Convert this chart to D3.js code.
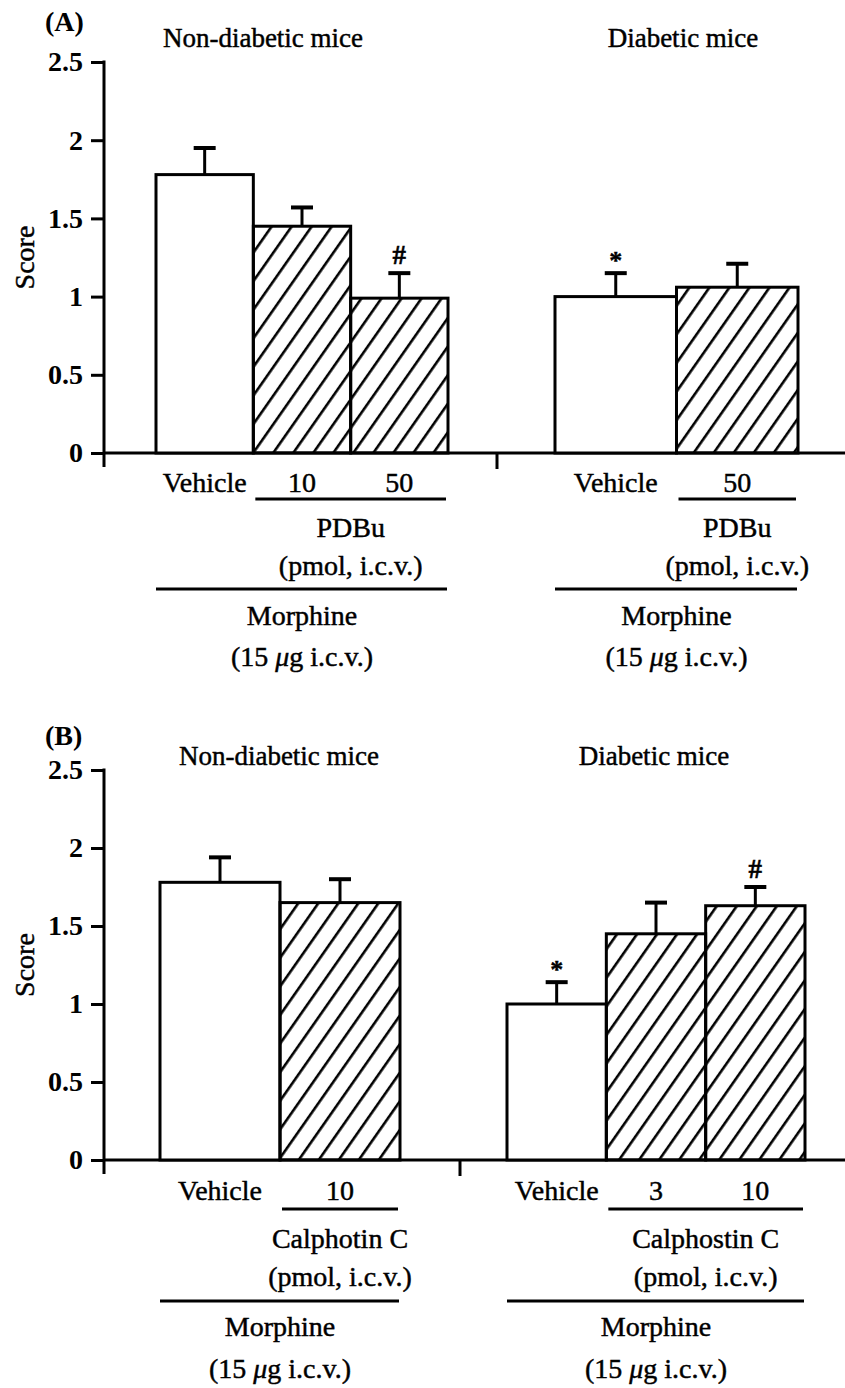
<!DOCTYPE html>
<html>
<head>
<meta charset="utf-8">
<script src="https://cdnjs.cloudflare.com/ajax/libs/d3/7.8.5/d3.min.js"></script>
<style>
    body { margin: 0; background: #fff; }
    text { font-family: 'Liberation Serif', 'Times New Roman', serif; fill: #000; stroke: #000; stroke-width: 0.45; }
    .tick text { font-weight: bold; font-size: 28px; stroke-width: 0; }
    .tick line, .axis-line { stroke: #000; stroke-width: 3; }
</style>
</head>
<body>
<div id="my_dataviz"></div>
<script>
// panel A: PDBu
const groupsA = ['Non-diabetic mice', 'Diabetic mice'];
const labelsA = [['Vehicle', '10', '50'], ['Vehicle', '50']];
const meansA = [[1.78, 1.45, 0.99], [1.0, 1.06]];
const semA = [[0.17, 0.12, 0.16], [0.15, 0.15]];
const hatchA = [[false, true, true], [false, true]];
const marksA = [['', '', '#'], ['*', '']];
const drugA = ['PDBu', 'PDBu'];

// panel B: calphostin C
const groupsB = ['Non-diabetic mice', 'Diabetic mice'];
const labelsB = [['Vehicle', '10'], ['Vehicle', '3', '10']];
const meansB = [[1.78, 1.65], [1.0, 1.45, 1.63]];
const semB = [[0.16, 0.15], [0.14, 0.20, 0.12]];
const hatchB = [[false, true], [false, true, true]];
const marksB = [['', ''], ['*', '', '#']];
const drugB = ['Calphotin C', 'Calphostin C'];

const yTicks = [0, 0.5, 1, 1.5, 2, 2.5];
const yAxisLabel = 'Score';
const doseUnit = '(pmol, i.c.v.)';
const pretreat = 'Morphine';

const width = 845, height = 1388;

const svg = d3.select('#my_dataviz')
    .append('svg')
    .attr('width', width)
    .attr('height', height);

// diagonal hatch
svg.append('defs')
    .append('pattern')
    .attr('id', 'hatch')
    .attr('patternUnits', 'userSpaceOnUse')
    .attr('width', 16.4)
    .attr('height', 10)
    .attr('patternTransform', 'rotate(35)')
    .append('line')
    .attr('x1', 8).attr('y1', -1)
    .attr('x2', 8).attr('y2', 11)
    .attr('stroke', '#000')
    .attr('stroke-width', 2.6);

const panels = [
    {
        letter: '(A)', groups: groupsA, labels: labelsA, means: meansA, sem: semA,
        hatch: hatchA, marks: marksA, drug: drugA,
        y0: 453, yTop: 62, axisX: 104, midTick: 497,
        ranges: [[156, 448], [555, 798]],
        titleX: [263, 683], titleY: 47, letterY: 31,
        off: [39, 46, 84, 122, 136, 172, 213]
    },
    {
        letter: '(B)', groups: groupsB, labels: labelsB, means: meansB, sem: semB,
        hatch: hatchB, marks: marksB, drug: drugB,
        y0: 1160, yTop: 770, axisX: 104, midTick: 460,
        ranges: [[160, 400], [507, 805]],
        titleX: [279, 654], titleY: 765, letterY: 745,
        off: [40, 49, 88, 126, 141, 176, 218]
    }
];

const render = p => {
    const g = svg.append('g');

    const yScale = d3.scaleLinear()
        .domain([0, 2.5])
        .range([p.y0, p.yTop]);

    const yAxis = d3.axisLeft(yScale)
        .tickValues(yTicks)
        .tickFormat(d => String(d))
        .tickSize(13)
        .tickSizeOuter(0)
        .tickPadding(8);

    const yAxisG = g.append('g')
        .attr('transform', 'translate(' + p.axisX + ',0)')
        .call(yAxis);
    yAxisG.select('.domain').remove();

    // axis lines
    g.append('line')
        .attr('class', 'axis-line')
        .attr('x1', p.axisX).attr('x2', p.axisX)
        .attr('y1', yScale(2.5) - 1.5).attr('y2', p.y0 + 14);
    g.append('line')
        .attr('class', 'axis-line')
        .attr('x1', p.axisX).attr('x2', width)
        .attr('y1', p.y0).attr('y2', p.y0);
    g.append('line')
        .attr('class', 'axis-line')
        .attr('x1', p.midTick).attr('x2', p.midTick)
        .attr('y1', p.y0).attr('y2', p.y0 + 16);

    g.append('text')
        .attr('transform', 'translate(34,' + yScale(1.25) + ') rotate(-90)')
        .attr('text-anchor', 'middle')
        .style('font-size', '28px')
        .text(yAxisLabel);

    g.append('text')
        .attr('x', 45).attr('y', p.letterY)
        .style('font-size', '28px')
        .style('font-weight', 'bold')
        .style('stroke-width', 0)
        .text(p.letter);

    p.groups.forEach((name, gi) => {
        const xScale = d3.scaleBand()
            .domain(d3.range(p.labels[gi].length))
            .range(p.ranges[gi]);

        const rows = p.labels[gi].map((l, i) => ({
            label: l,
            mean: p.means[gi][i],
            sem: p.sem[gi][i],
            hatch: p.hatch[gi][i],
            mark: p.marks[gi][i],
            i: i
        }));

        g.append('text')
            .attr('x', p.titleX[gi]).attr('y', p.titleY)
            .attr('text-anchor', 'middle')
            .style('font-size', '27px')
            .text(name);

        // error bars
        const errG = g.append('g');
        errG.selectAll('line.err')
            .data(rows)
            .enter()
            .append('line')
            .attr('x1', d => xScale(d.i) + xScale.bandwidth() / 2)
            .attr('x2', d => xScale(d.i) + xScale.bandwidth() / 2)
            .attr('y1', d => yScale(d.mean))
            .attr('y2', d => yScale(d.mean + d.sem))
            .attr('stroke', '#000').attr('stroke-width', 3);
        errG.selectAll('line.cap')
            .data(rows)
            .enter()
            .append('line')
            .attr('x1', d => xScale(d.i) + xScale.bandwidth() / 2 - 11)
            .attr('x2', d => xScale(d.i) + xScale.bandwidth() / 2 + 11)
            .attr('y1', d => yScale(d.mean + d.sem))
            .attr('y2', d => yScale(d.mean + d.sem))
            .attr('stroke', '#000').attr('stroke-width', 4);

        g.selectAll(null)
            .data(rows)
            .enter()
            .append('rect')
            .attr('x', d => xScale(d.i))
            .attr('width', xScale.bandwidth())
            .attr('y', d => yScale(d.mean))
            .attr('height', d => p.y0 - yScale(d.mean))
            .attr('fill', d => d.hatch ? 'url(#hatch)' : '#fff')
            .attr('stroke', '#000')
            .attr('stroke-width', 3);

        g.selectAll(null)
            .data(rows.filter(d => d.mark))
            .enter()
            .append('text')
            .attr('x', d => xScale(d.i) + xScale.bandwidth() / 2)
            .attr('y', d => yScale(d.mean + d.sem) - (d.mark === '*' ? 4 : 9))
            .attr('text-anchor', 'middle')
            .style('font-size', d => d.mark === '*' ? '26px' : '27px')
            .style('font-weight', 'bold')
            .text(d => d.mark);

        // labels under the bars
        g.selectAll(null)
            .data(rows)
            .enter()
            .append('text')
            .attr('x', d => xScale(d.i) + xScale.bandwidth() / 2)
            .attr('y', p.y0 + p.off[0])
            .attr('text-anchor', 'middle')
            .style('font-size', '28px')
            .text(d => d.label);

        const hatched = rows.filter(d => d.hatch);
        const hx1 = xScale(hatched[0].i) + 2;
        const hx2 = xScale(hatched[hatched.length - 1].i) + xScale.bandwidth() - 2;
        const hc = (hx1 + hx2) / 2;
        g.append('line')
            .attr('class', 'axis-line')
            .attr('x1', hx1).attr('x2', hx2)
            .attr('y1', p.y0 + p.off[1]).attr('y2', p.y0 + p.off[1]);
        g.append('text')
            .attr('x', hc).attr('y', p.y0 + p.off[2])
            .attr('text-anchor', 'middle')
            .style('font-size', '28px')
            .text(p.drug[gi]);
        g.append('text')
            .attr('x', hc).attr('y', p.y0 + p.off[3])
            .attr('text-anchor', 'middle')
            .style('font-size', '28px')
            .text(doseUnit);

        const r = xScale.range();
        const gc = (r[0] + r[1]) / 2;
        g.append('line')
            .attr('class', 'axis-line')
            .attr('x1', r[0]).attr('x2', r[1] - 1)
            .attr('y1', p.y0 + p.off[4]).attr('y2', p.y0 + p.off[4]);
        g.append('text')
            .attr('x', gc).attr('y', p.y0 + p.off[5])
            .attr('text-anchor', 'middle')
            .style('font-size', '28px')
            .text(pretreat);
        const dose = g.append('text')
            .attr('x', gc).attr('y', p.y0 + p.off[6])
            .attr('text-anchor', 'middle')
            .style('font-size', '28px');
        dose.append('tspan').text('(15 ');
        dose.append('tspan').style('font-style', 'italic').text('μ');
        dose.append('tspan').text('g i.c.v.)');
    });
};

panels.forEach(render);
</script>
</body>
</html>
